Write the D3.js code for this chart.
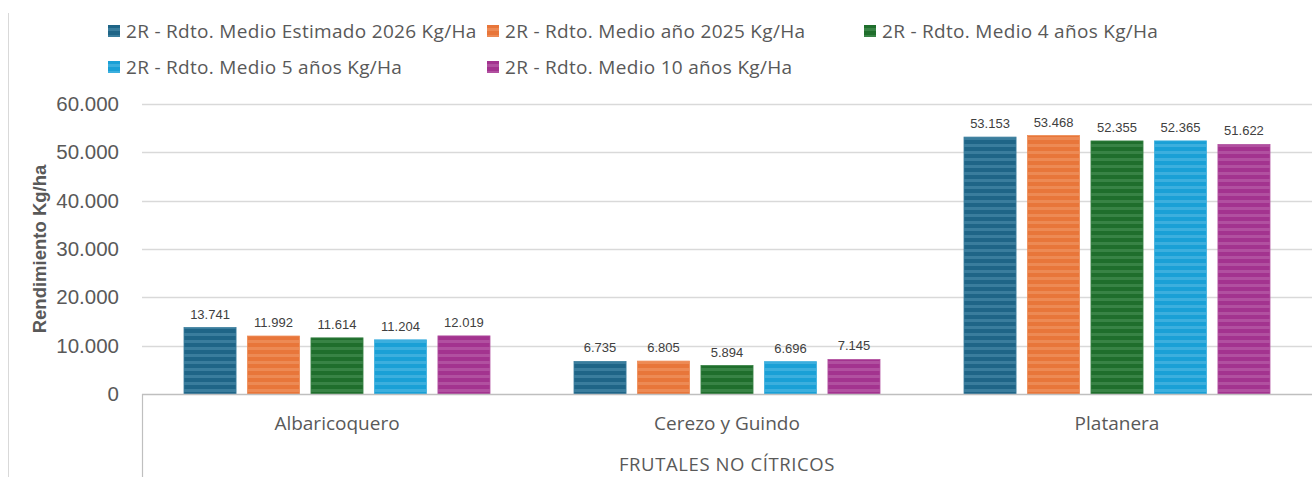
<!DOCTYPE html>
<html>
<head>
<meta charset="utf-8">
<script src="https://d3js.org/d3.v7.min.js"></script>
<style>
  body { margin: 0; background: white; }
  text { font-family: "Open Sans", "Noto Sans", sans-serif; }
  .num { font-family: "Liberation Sans", Arial, sans-serif; }
</style>
</head>
<body>
<svg id="chart" width="1312" height="477"></svg>
<script>
// data
const categories = ["Albaricoquero", "Cerezo y Guindo", "Platanera"];
const seriesNames = [
  "2R - Rdto. Medio Estimado 2026 Kg/Ha",
  "2R - Rdto. Medio año 2025 Kg/Ha",
  "2R - Rdto. Medio 4 años Kg/Ha",
  "2R - Rdto. Medio 5 años Kg/Ha",
  "2R - Rdto. Medio 10 años Kg/Ha"
];
const est2026 = [13741, 6735, 53153];
const anio2025 = [11992, 6805, 53468];
const medio4 = [11614, 5894, 52355];
const medio5 = [11204, 6696, 52365];
const medio10 = [12019, 7145, 51622];
const yTicks = [0, 10000, 20000, 30000, 40000, 50000, 60000];
const groupLabel = "FRUTALES NO CÍTRICOS";
const yTitle = "Rendimiento Kg/ha";

const seriesValues = [est2026, anio2025, medio4, medio5, medio10];
const colors = ["#1f6587", "#e8763a", "#1f6e2c", "#1aa0d6", "#a3338f"];
const lights = ["#3a7d9d", "#ed8a54", "#388345", "#3cafde", "#b150a0"];

const svg = d3.select("#chart");
const fmt = v => d3.format(",")(v).replace(/,/g, ".");

// stripe patterns
const defs = svg.append("defs");
colors.forEach((c, i) => {
  const p = defs.append("pattern")
    .attr("id", "stripe" + i)
    .attr("patternUnits", "userSpaceOnUse")
    .attr("width", 8).attr("height", 7);
  p.append("rect").attr("width", 8).attr("height", 7).attr("fill", c);
  p.append("rect").attr("y", 4).attr("width", 8).attr("height", 3).attr("fill", lights[i]);
});

const mLeft = 142, mRight = 1312, mTop = 104, mBottom = 394;

const y = d3.scaleLinear().domain([0, 60000]).range([mBottom, mTop]);
const x0 = d3.scaleBand().domain(categories).range([mLeft, mRight]);
const x1 = d3.scaleBand().domain(d3.range(5)).range([42, x0.bandwidth() - 42]).paddingInner(0.18);

// outer left border
svg.append("line").attr("x1", 8.5).attr("x2", 8.5).attr("y1", 13).attr("y2", 477)
  .attr("stroke", "#d9d9d9");

// gridlines
svg.append("g").selectAll("line").data(yTicks.filter(d => d > 0)).join("line")
  .attr("x1", mLeft).attr("x2", mRight)
  .attr("y1", d => Math.round(y(d)) + 0.5).attr("y2", d => Math.round(y(d)) + 0.5)
  .attr("stroke", "#d9d9d9").attr("stroke-width", 1.5);

// y tick labels
svg.append("g").selectAll("text").data(yTicks).join("text")
  .attr("class", "num")
  .attr("x", 119).attr("y", d => y(d) + 7)
  .attr("text-anchor", "end")
  .attr("font-size", 20.5).attr("fill", "#595959")
  .text(d => fmt(d));

// y title
svg.append("text")
  .attr("class", "num")
  .attr("transform", `translate(46,${(mTop + mBottom) / 2}) rotate(-90)`)
  .attr("text-anchor", "middle")
  .attr("font-size", 18.5).attr("font-weight", "bold").attr("fill", "#595959")
  .text(yTitle);

// bars
const rows = [];
categories.forEach((c, ci) => seriesValues.forEach((s, si) => rows.push({ c, si, v: s[ci] })));

const g = svg.append("g");
g.selectAll("rect").data(rows).join("rect")
  .attr("x", d => x0(d.c) + x1(d.si))
  .attr("y", d => y(d.v))
  .attr("width", x1.bandwidth())
  .attr("height", d => mBottom - y(d.v))
  .attr("fill", d => `url(#stripe${d.si})`)
  .attr("stroke", d => lights[d.si]).attr("stroke-width", 0.8);

g.selectAll("text").data(rows).join("text")
  .attr("class", "num")
  .attr("x", d => x0(d.c) + x1(d.si) + x1.bandwidth() / 2)
  .attr("y", d => y(d.v) - 9)
  .attr("text-anchor", "middle")
  .attr("font-size", 13).attr("fill", "#404040")
  .text(d => fmt(d.v));

// x axis line and category box
svg.append("line").attr("x1", mLeft).attr("x2", mRight).attr("y1", mBottom + 0.5).attr("y2", mBottom + 0.5)
  .attr("stroke", "#bfbfbf").attr("stroke-width", 1.5);
svg.append("line").attr("x1", mLeft + 0.5).attr("x2", mLeft + 0.5).attr("y1", mBottom).attr("y2", 477)
  .attr("stroke", "#bfbfbf").attr("stroke-width", 1.2);

svg.append("g").selectAll("text").data(categories).join("text")
  .attr("x", d => x0(d) + x0.bandwidth() / 2)
  .attr("y", 430)
  .attr("text-anchor", "middle")
  .attr("font-size", 19).attr("fill", "#595959")
  .text(d => d);

svg.append("text")
  .attr("x", (mLeft + mRight) / 2).attr("y", 471)
  .attr("text-anchor", "middle")
  .attr("font-size", 18.5).attr("letter-spacing", 0.6).attr("fill", "#595959")
  .text(groupLabel);

// legend
const legendPos = [[108, 31], [487, 31], [864, 31], [108, 67], [487, 67]];
const lg = svg.append("g").selectAll("g").data(seriesNames).join("g")
  .attr("transform", (d, i) => `translate(${legendPos[i][0]},${legendPos[i][1]})`);
lg.append("rect").attr("x", 0).attr("y", -6).attr("width", 12).attr("height", 12)
  .attr("fill", (d, i) => `url(#stripe${i})`);
lg.append("text").attr("x", 18).attr("y", 6.5)
  .attr("font-size", 19).attr("letter-spacing", 0.3).attr("fill", "#595959")
  .text(d => d);
</script>
</body>
</html>
